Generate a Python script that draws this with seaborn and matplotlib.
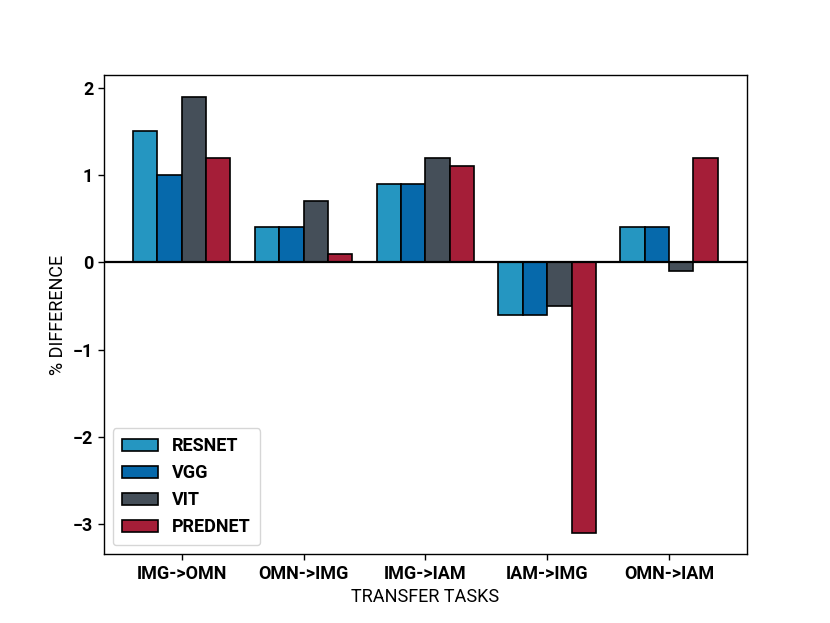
import pandas as pd
import numpy as np
from matplotlib import pyplot as plt
import seaborn as sns

tasks = ['IMG->OMN', 'OMN->IMG', 'IMG->IAM', 'IAM->IMG', 'OMN->IAM']
models = ['RESNET', 'VGG', 'VIT', 'PREDNET']
resnet = [1.5, 0.4, 0.9, -0.6, 0.4]
vgg = [1.0, 0.4, 0.9, -0.6, 0.4]
vit = [1.9, 0.7, 1.2, -0.5, -0.1]
prednet = [1.2, 0.1, 1.1, -3.1, 1.2]
colors = ['#2596c1', '#0669ab', '#454f59', '#a51e38']

sns.set_style('white')
plt.rcParams['font.family'] = ['Roboto', 'DejaVu Sans']
plt.rcParams['text.color'] = 'black'
plt.rcParams['axes.labelcolor'] = 'black'
plt.rcParams['xtick.color'] = 'black'
plt.rcParams['ytick.color'] = 'black'

# long table for seaborn
df = pd.DataFrame({
    'task': tasks * 4,
    'model': np.repeat(models, len(tasks)),
    'diff': resnet + vgg + vit + prednet,
})

fig, ax = plt.subplots(figsize=(8.3, 6.23), dpi=100)
sns.barplot(data=df, x='task', y='diff', hue='model', hue_order=models,
            palette=colors, saturation=1, edgecolor='black', linewidth=1.2,
            width=0.8, errorbar=None, ax=ax)
ax.axhline(0, color='black', linewidth=1.6)
ax.set_xlim(-0.64, 4.64)
ax.set_ylim(-3.35, 2.15)

for s in ax.spines.values():
    s.set_color('black')
    s.set_linewidth(1.0)
ax.tick_params(axis='both', which='major', length=4, width=1, color='black',
               labelsize=13, bottom=True, left=True)
for lab in ax.get_xticklabels() + ax.get_yticklabels():
    lab.set_fontweight('bold')

ax.set_xlabel('TRANSFER TASKS', size=13)
ax.set_ylabel('% DIFFERENCE', size=13)

leg = ax.legend(loc='lower left', prop={'weight': 'bold', 'size': 13},
                frameon=True, borderpad=0.5)
leg.get_frame().set_edgecolor('#cccccc')

plt.savefig('out.png', dpi=100)
